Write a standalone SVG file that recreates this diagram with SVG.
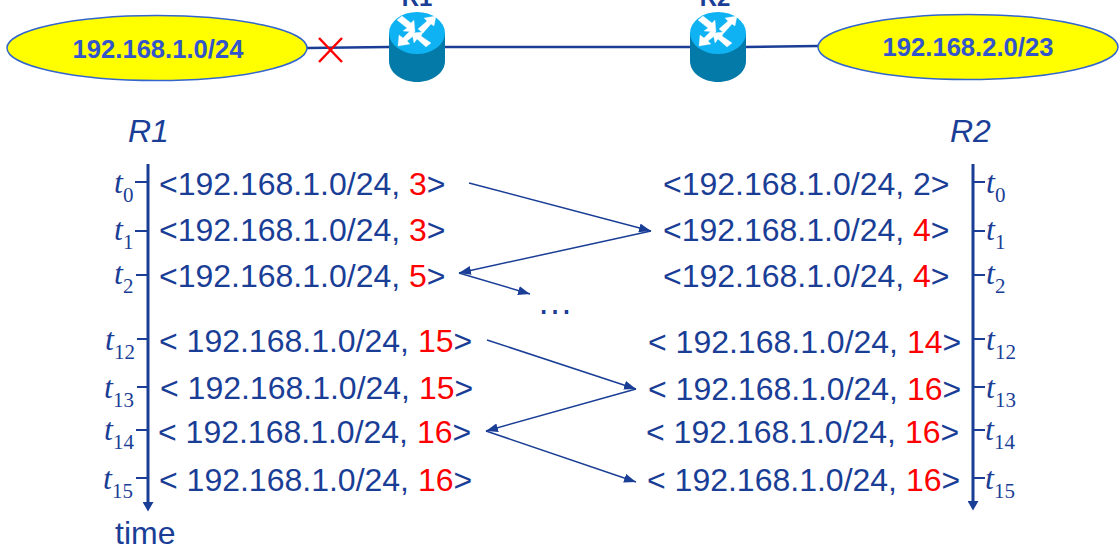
<svg xmlns="http://www.w3.org/2000/svg" width="1120" height="550" viewBox="0 0 1120 550">
<style>
text{font-family:"Liberation Sans",Arial,sans-serif;fill:#1a3e96}
.r{font-size:32px}
.red{fill:#ff0000}
.net{font-size:25.6px;font-weight:bold;fill:#3355cc;text-anchor:middle}
.rn{font-size:24px;font-weight:bold;text-anchor:middle}
.h{font-size:32px;font-style:italic}
.t{font-family:"Liberation Serif","Times New Roman",serif;font-size:32px;font-style:italic}
.s{font-size:21px;font-style:normal}
.ln{stroke:#1a3e96;fill:none}
.ax{stroke:#1a3e96;stroke-width:3;fill:none}
.tk{stroke:#1a3e96;stroke-width:2;fill:none}
.ar{stroke:#1a3e96;stroke-width:1.5;fill:none;marker-end:url(#ah)}
.ell{fill:#ffff00;stroke:#3366cc;stroke-width:1.5}
</style>
<defs>
<marker id="ah" markerUnits="userSpaceOnUse" markerWidth="13" markerHeight="10" refX="12" refY="4.500" orient="auto"><path d="M0 0L12 4.500L0 9Z" fill="#1a3e96"/></marker>
<marker id="axh" markerUnits="userSpaceOnUse" markerWidth="12" markerHeight="10" refX="5.500" refY="0" orient="0"><path d="M0 0H11L5.500 9.500Z" fill="#1a3e96"/></marker>
<g id="router">
<path d="M-28 0V28C-28 40-15 49 0 49S28 40 28 28V0Z" fill="#047aa9"/>
<ellipse cx="0" cy="0" rx="28" ry="21" fill="#0fb2f2"/>
<g fill="#fff" stroke="#fff" stroke-width=".3">
<path d="M-20-13L-15-17L-6-10L-3-13L-2-1L-14-2L-10-5Z"/>
<path d="M19-17L17-7L14-9L6 0L1-4L10-12L7-15Z"/>
<path d="M-19 13L-18 2L-14 5L-6-3L-1 1L-10 8L-7 11Z"/>
<path d="M-5 0L6-1L4 3L14 10L9 14L0 6L-3 10Z"/>
</g>
</g>
</defs>
<g id="connectors">
<path class="ln" stroke-width="2.500" d="M307 48L389 47M445 47H690M745 47L818 46"/>
<path class="ar" d="M469 183L651 231"/>
<path class="ar" d="M651 231L459 273"/>
<path class="ar" d="M459 273L530 294"/>
<path class="ar" d="M487 340L636 389"/>
<path class="ar" d="M636 389L486 431"/>
<path class="ar" d="M486 431L636 482"/>
</g>
<g id="net1"><ellipse class="ell" cx="157" cy="48" rx="150" ry="32.500"/><text class="net" x="158" y="58">192.168.1.0/24</text></g>
<g id="net2"><ellipse class="ell" cx="968" cy="47" rx="150" ry="32.500"/><text class="net" x="968" y="56">192.168.2.0/23</text></g>
<g id="fail"><path d="M319 38L342 62M342 38L319 62" stroke="#ff0000" stroke-width="2.500" fill="none"/></g>
<g id="r1"><text class="rn" x="417" y="6">R1</text><use href="#router" x="417" y="33"/></g>
<g id="r2"><text class="rn" x="715" y="6">R2</text><use href="#router" x="718" y="33"/></g>
<g id="timeline-r1">
<text class="h" x="128" y="142">R1</text>
<path class="ax" d="M148 164V502" marker-end="url(#axh)"/>
<path class="tk" d="M135 182H148M135 231H148M136 275H148M137 339H148M137 387H148M136 430H148M136 478H148"/>
<text class="t" x="114" y="193">t<tspan class="s" dy="9">0</tspan></text>
<text class="t" x="114" y="240">t<tspan class="s" dy="9">1</tspan></text>
<text class="t" x="114" y="284">t<tspan class="s" dy="9">2</tspan></text>
<text class="t" x="105" y="350">t<tspan class="s" dy="9">12</tspan></text>
<text class="t" x="104" y="398">t<tspan class="s" dy="9">13</tspan></text>
<text class="t" x="104" y="440">t<tspan class="s" dy="9">14</tspan></text>
<text class="t" x="103" y="489">t<tspan class="s" dy="9">15</tspan></text>
<text x="115" y="544" font-size="32">time</text>
</g>
<g id="timeline-r2">
<text class="h" x="950" y="142">R2</text>
<path class="ax" d="M973 164V501" marker-end="url(#axh)"/>
<path class="tk" d="M973 182H985M973 231H985M973 275H985M973 339H985M973 387H985M973 430H985M973 478H985"/>
<text class="t" x="986" y="193">t<tspan class="s" dy="9">0</tspan></text>
<text class="t" x="986" y="240">t<tspan class="s" dy="9">1</tspan></text>
<text class="t" x="986" y="284">t<tspan class="s" dy="9">2</tspan></text>
<text class="t" x="986" y="350">t<tspan class="s" dy="9">12</tspan></text>
<text class="t" x="986" y="398">t<tspan class="s" dy="9">13</tspan></text>
<text class="t" x="985" y="440">t<tspan class="s" dy="9">14</tspan></text>
<text class="t" x="985" y="489">t<tspan class="s" dy="9">15</tspan></text>
</g>
<g id="table-r1">
<text class="r" x="159" y="195">&lt;192.168.1.0/24, <tspan class="red">3</tspan>&gt;</text>
<text class="r" x="159" y="241">&lt;192.168.1.0/24, <tspan class="red">3</tspan>&gt;</text>
<text class="r" x="159" y="287">&lt;192.168.1.0/24, <tspan class="red">5</tspan>&gt;</text>
<text class="r" x="159" y="352">&lt; 192.168.1.0/24, <tspan class="red">15</tspan>&gt;</text>
<text class="r" x="160" y="399">&lt; 192.168.1.0/24, <tspan class="red">15</tspan>&gt;</text>
<text class="r" x="158" y="443">&lt; 192.168.1.0/24, <tspan class="red">16</tspan>&gt;</text>
<text class="r" x="159" y="491">&lt; 192.168.1.0/24, <tspan class="red">16</tspan>&gt;</text>
</g>
<g id="table-r2">
<text class="r" x="663" y="195">&lt;192.168.1.0/24, 2&gt;</text>
<text class="r" x="663" y="241">&lt;192.168.1.0/24, <tspan class="red">4</tspan>&gt;</text>
<text class="r" x="663" y="287">&lt;192.168.1.0/24, <tspan class="red">4</tspan>&gt;</text>
<text class="r" x="648" y="353">&lt; 192.168.1.0/24, <tspan class="red">14</tspan>&gt;</text>
<text class="r" x="648" y="400">&lt; 192.168.1.0/24, <tspan class="red">16</tspan>&gt;</text>
<text class="r" x="646" y="443">&lt; 192.168.1.0/24, <tspan class="red">16</tspan>&gt;</text>
<text class="r" x="647" y="491">&lt; 192.168.1.0/24, <tspan class="red">16</tspan>&gt;</text>
</g>
<text id="ellipsis" x="537" y="314" font-size="36">…</text>
</svg>
